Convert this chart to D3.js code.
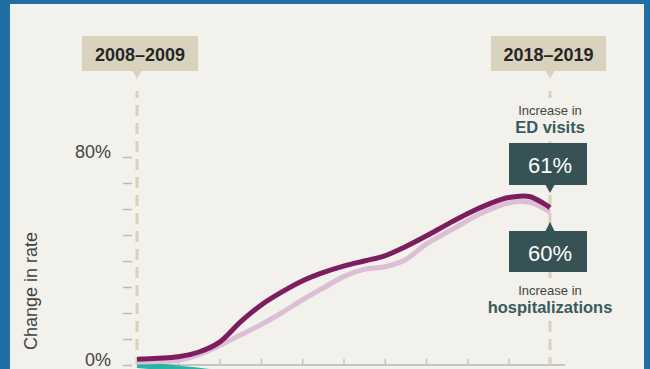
<!DOCTYPE html>
<html>
<head>
<meta charset="utf-8">
<script src="https://cdn.jsdelivr.net/npm/d3@7"></script>
<style>
  html, body { margin: 0; padding: 0; background: #1f6ea6; }
  svg { display: block; font-family: "Liberation Sans", Arial, sans-serif; }
</style>
</head>
<body>
<div id="chart"></div>
<script>
// periods on the x axis, in years after 2008–2009 (half-year steps)
var periods = [0, 0.5, 1, 1.5, 2, 2.5, 3, 3.5, 4, 4.5, 5, 5.5, 6, 6.5, 7, 7.5, 8, 8.5, 9, 9.5, 10];
var yearLabels = ["2008–2009", "2009–2010", "2010–2011", "2011–2012", "2012–2013", "2013–2014",
                  "2014–2015", "2015–2016", "2016–2017", "2017–2018", "2018–2019"];

// change in rate, %
var edVisits        = [2.2, 2.6, 3.2, 5.0, 8.8, 16.5, 23, 28, 32.3, 35.5, 38, 40, 42, 45.5, 49.6, 54, 58.2, 61.8, 64.4, 64.8, 60.5];
var hospitalizations = [1.2, 1.3, 1.8, 4.0, 7.5, 11.5, 15.5, 20, 25, 29.5, 34, 36.8, 37.8, 40.5, 46.5, 51, 55.5, 59.5, 62.3, 62.6, 58.8];
var otherRate       = [0, -0.6, -1.3, -2.2, -3.2, -4.3, -5.5, -6.6, -7.6, -8.5, -9.3, -10, -10.6, -11.1, -11.5, -11.8, -12, -12.1, -12.2, -12.2, -12.2];

var yTicks = [0, 10, 20, 30, 40, 50, 60, 70, 80];
var yLabelled = [0, 80];
var edIncrease = 61;
var hospIncrease = 60;

var width = 650, height = 369;

var svg = d3.select("#chart").append("svg")
            .attr("width", width)
            .attr("height", height);

svg.append("rect")
   .attr("width", width).attr("height", height)
   .attr("fill", "#1f6ea6");

svg.append("rect")
   .attr("x", 10).attr("y", 4)
   .attr("width", 634).attr("height", 420)
   .attr("fill", "#f2f1ec");

var x = d3.scaleLinear().domain([0, 10]).range([137, 550]);
var y = d3.scaleLinear().domain([0, 80]).range([365, 157]);

// y axis: ticks only, no domain line
var yAxis = svg.append("g")
               .attr("transform", "translate(132,0)")
               .call(d3.axisLeft(y)
                       .tickValues(yTicks)
                       .tickSize(9)
                       .tickPadding(12)
                       .tickFormat(function (d) { return yLabelled.indexOf(d) >= 0 ? d + "%" : ""; }));
yAxis.select(".domain").remove();
yAxis.selectAll(".tick line").attr("stroke", "#b9bcb6").attr("stroke-width", 1.5);
yAxis.selectAll(".tick text")
     .attr("fill", "#444")
     .attr("font-size", 18)
     .attr("font-family", "Liberation Sans, Arial, sans-serif")
     .attr("dy", "0.04em");

svg.append("text")
   .attr("transform", "translate(37,291) rotate(-90)")
   .attr("text-anchor", "middle")
   .attr("font-size", 18)
   .attr("fill", "#444")
   .text("Change in rate");

// x axis: baseline with upward ticks, one per year
var xAxis = svg.append("g")
               .attr("transform", "translate(0,365)")
               .call(d3.axisTop(x)
                       .tickValues(d3.range(yearLabels.length))
                       .tickSize(6)
                       .tickSizeOuter(0)
                       .tickFormat(""));
xAxis.select(".domain").remove();
xAxis.selectAll(".tick line").attr("stroke", "#c3c6bf").attr("stroke-width", 1.5);
svg.append("line")
   .attr("x1", x(0)).attr("x2", x(10) + 15)
   .attr("y1", 365).attr("y2", 365)
   .attr("stroke", "#c3c6bf")
   .attr("stroke-width", 2);

// dashed period markers
var markers = [0, 10];
svg.selectAll("line.marker")
   .data(markers)
   .enter()
   .append("line")
   .attr("class", "marker")
   .attr("x1", function (d) { return x(d); })
   .attr("x2", function (d) { return x(d); })
   .attr("y1", 91)
   .attr("y2", 365)
   .attr("stroke", "#d9d2b9")
   .attr("stroke-width", 3)
   .style("stroke-dasharray", "11, 7")
   .style("stroke-dashoffset", 4);

// lines
var line = d3.line()
             .x(function (d) { return x(d[0]); })
             .y(function (d) { return y(d[1]); })
             .curve(d3.curveCatmullRom.alpha(0.5));

var series = [
  { values: otherRate,        color: "#2bb3a6", w: 6 },
  { values: hospitalizations, color: "#dcbfd5", w: 5 },
  { values: edVisits,         color: "#7b1d5e", w: 5 }
];

svg.selectAll("path.series")
   .data(series)
   .enter()
   .append("path")
   .attr("class", "series")
   .attr("d", function (s) { return line(s.values.map(function (v, i) { return [periods[i], v]; })); })
   .attr("fill", "none")
   .attr("stroke", function (s) { return s.color; })
   .attr("stroke-width", function (s) { return s.w; })
   .attr("stroke-linejoin", "round");

// period labels on top
var tags = [{ i: 0, x0: 82, x1: 198 }, { i: 10, x0: 491, x1: 606 }];
tags.forEach(function (t) {
  var cx = x(t.i);
  svg.append("rect")
     .attr("x", t.x0).attr("y", 36)
     .attr("width", t.x1 - t.x0).attr("height", 35)
     .attr("fill", "#d9d3be");
  svg.append("path")
     .attr("d", "M" + (cx - 5) + ",70 L" + (cx + 5) + ",70 L" + cx + ",79 Z")
     .attr("fill", "#d9d3be");
  svg.append("text")
     .attr("x", (t.x0 + t.x1) / 2)
     .attr("y", 61)
     .attr("text-anchor", "middle")
     .attr("font-size", 18)
     .attr("font-weight", "bold")
     .attr("fill", "#262626")
     .text(yearLabels[t.i]);
});

// callouts at the right end
var cx = x(10);
var bg = "#f2f1ec";
var boxFill = "#375254";

svg.append("rect").attr("x", 505).attr("y", 101).attr("width", 90).attr("height", 37).attr("fill", bg);
svg.append("rect").attr("x", 485).attr("y", 284).attr("width", 130).attr("height", 34).attr("fill", bg);

svg.append("text")
   .attr("x", cx).attr("y", 115)
   .attr("text-anchor", "middle")
   .attr("font-size", 13)
   .attr("fill", "#444")
   .text("Increase in");
svg.append("text")
   .attr("x", cx).attr("y", 133)
   .attr("text-anchor", "middle")
   .attr("font-size", 16.5)
   .attr("font-weight", "bold")
   .attr("fill", "#3b5a5c")
   .text("ED visits");

svg.append("rect")
   .attr("x", 509).attr("y", 143)
   .attr("width", 78).attr("height", 42)
   .attr("fill", boxFill);
svg.append("path")
   .attr("d", "M" + (cx - 5) + ",184 L" + (cx + 5) + ",184 L" + cx + ",193 Z")
   .attr("fill", boxFill);
svg.append("text")
   .attr("x", cx).attr("y", 173)
   .attr("text-anchor", "middle")
   .attr("font-size", 22)
   .attr("fill", "#fff")
   .text(edIncrease + "%");

svg.append("rect")
   .attr("x", 509).attr("y", 231)
   .attr("width", 78).attr("height", 41)
   .attr("fill", boxFill);
svg.append("path")
   .attr("d", "M" + (cx - 5) + ",232 L" + (cx + 5) + ",232 L" + cx + ",222 Z")
   .attr("fill", boxFill);
svg.append("text")
   .attr("x", cx).attr("y", 261)
   .attr("text-anchor", "middle")
   .attr("font-size", 22)
   .attr("fill", "#fff")
   .text(hospIncrease + "%");

svg.append("text")
   .attr("x", cx).attr("y", 295)
   .attr("text-anchor", "middle")
   .attr("font-size", 13)
   .attr("fill", "#444")
   .text("Increase in");
svg.append("text")
   .attr("x", cx).attr("y", 313)
   .attr("text-anchor", "middle")
   .attr("font-size", 16.5)
   .attr("font-weight", "bold")
   .attr("fill", "#3b5a5c")
   .text("hospitalizations");
</script>
</body>
</html>
